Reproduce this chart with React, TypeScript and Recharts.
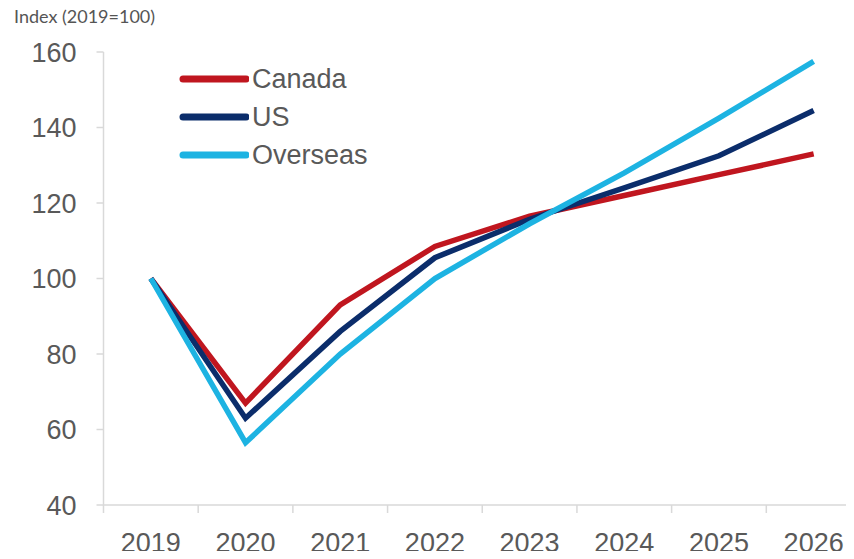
import React from 'react';
import { LineChart, Line, XAxis, YAxis } from 'recharts';

const years = ['2019', '2020', '2021', '2022', '2023', '2024', '2025', '2026'];
const canada = [100, 67, 93, 108.5, 116.5, 122, 127.5, 133];
const us = [100, 63, 86, 105.5, 115.7, 124, 132.5, 144.5];
const overseas = [100, 56.5, 80, 100, 114.5, 128, 142.5, 157.5];
const yTicks = [40, 60, 80, 100, 120, 140, 160];

const SERIES = [
  { key: 'canada', name: 'Canada', color: '#C0161F' },
  { key: 'us', name: 'US', color: '#0B2D6B' },
  { key: 'overseas', name: 'Overseas', color: '#1DB3E2' },
];

const data = years.map((year, i) => ({
  year,
  canada: canada[i],
  us: us[i],
  overseas: overseas[i],
}));

const FONT = '"Liberation Sans", Arial, sans-serif';
const TEXT = '#595959';
const AXIS = '#d9d9d9';
const BAND = 94.7; // width of one year slot

const XTick = (props: any) => {
  const { x, y, payload, index } = props;
  const isLast = index === years.length - 1;
  return (
    <g>
      <line x1={x - BAND / 2} x2={x - BAND / 2} y1={y} y2={y + 8} stroke={AXIS} strokeWidth={1.5} />
      {isLast && (
        <line x1={x + BAND / 2} x2={x + BAND / 2} y1={y} y2={y + 8} stroke={AXIS} strokeWidth={1.5} />
      )}
      <text x={x} y={y + 46.5} textAnchor="middle" fill={TEXT} fontSize={27} fontFamily={FONT}>
        {payload.value}
      </text>
    </g>
  );
};

// legend drawn as plain html so it does not take room from the plot
const LegendBox = () => (
  <div style={{ position: 'absolute', left: 179, top: 60, zIndex: 2 }}>
    {SERIES.map((s) => (
      <div key={s.key} style={{ display: 'flex', alignItems: 'center', height: 38 }}>
        <svg width={70} height={10} style={{ display: 'block' }}>
          <line x1={4} x2={67} y1={5} y2={5} stroke={s.color} strokeWidth={7} strokeLinecap="round" />
        </svg>
        <span style={{ fontFamily: FONT, fontSize: 27, color: TEXT, lineHeight: '38px', marginLeft: 3 }}>
          {s.name}
        </span>
      </div>
    ))}
  </div>
);

export default function App() {
  return (
    <div style={{ margin: -8, width: 854, height: 559, overflow: 'hidden', position: 'relative', background: '#fff' }}>
      <div
        style={{
          position: 'absolute',
          left: 14,
          top: 5,
          fontFamily: 'Lato, sans-serif',
          fontSize: 18,
          color: '#555',
          zIndex: 2,
        }}
      >
        Index (2019=100)
      </div>
      <LegendBox />
      <LineChart
        width={870}
        height={559}
        data={data}
        margin={{ top: 52, right: 9, bottom: 14, left: 13.5 }}
      >
        <XAxis
          dataKey="year"
          scale="band"
          height={40}
          tickLine={false}
          tickSize={0}
          tickMargin={0}
          interval={0}
          axisLine={{ stroke: AXIS, strokeWidth: 1.5 }}
          tick={<XTick />}
        />
        <YAxis
          width={90}
          domain={[40, 160]}
          ticks={yTicks}
          interval={0}
          tickSize={7}
          tickMargin={20}
          axisLine={{ stroke: AXIS, strokeWidth: 1.5 }}
          tickLine={{ stroke: AXIS, strokeWidth: 1.5 }}
          tick={{ fill: TEXT, fontSize: 27, fontFamily: FONT }}
        />
        {SERIES.map((s) => (
          <Line
            key={s.key}
            dataKey={s.key}
            name={s.name}
            stroke={s.color}
            strokeWidth={5.5}
            dot={false}
            activeDot={false}
            isAnimationActive={false}
          />
        ))}
      </LineChart>
    </div>
  );
}
